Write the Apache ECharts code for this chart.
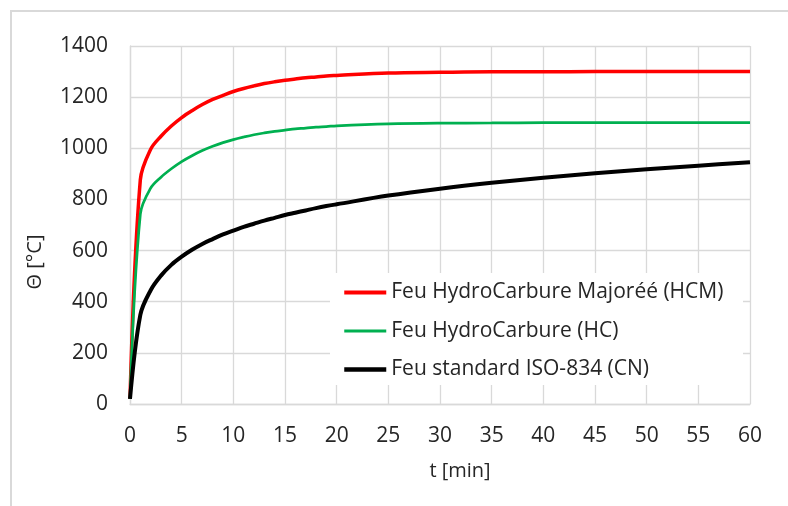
<!DOCTYPE html>
<html>
<head>
<meta charset="utf-8">
<script src="https://cdn.jsdelivr.net/npm/echarts@6/dist/echarts.min.js"></script>
<style>html,body{margin:0;padding:0;background:#fff}#c{width:788px;height:506px}</style>
</head>
<body>
<div id="c"></div>
<script>
// time [min]
var times = [0,1,2,3,4,5,6,7,8,9,10,11,12,13,14,15,16,17,18,19,20,25,30,35,40,45,50,55,60];
// Feu HydroCarbure Majoréé (HCM)
var hcm = [20,877,996,1047,1087,1120,1147,1171,1191,1207,1222,1234,1244,1253,1260,1266,1271,1276,1279,1283,1285,1294,1297,1299,1299,1300,1300,1300,1300];
// Feu HydroCarbure (HC)
var hc = [20,743,844,887,920,948,971,991,1008,1022,1034,1044,1053,1060,1066,1071,1076,1079,1083,1085,1088,1095,1098,1099,1100,1100,1100,1100,1100];
// Feu standard ISO-834 (CN)
var iso = [20,349,445,502,544,576,603,626,645,663,678,693,705,717,728,739,748,757,766,774,781,815,842,865,885,902,918,932,945];
var seriesNames = ['Feu HydroCarbure Majoréé (HCM)','Feu HydroCarbure (HC)','Feu standard ISO-834 (CN)'];
var xTicks = {min:0, max:60, interval:5};
var yTicks = {min:0, max:1400, interval:200};
var xTitle = 't [min]';
var yTitle = 'Θ [°C]';

function pairs(ys){ return times.map(function(t,i){ return [t, ys[i]]; }); }

var FONT = '"Open Sans", sans-serif';
var GRID = '#d9d9d9';
var TXT = '#262626';

var chart = echarts.init(document.getElementById('c'), null, {renderer:'canvas'});
chart.setOption({
  animation:false,
  backgroundColor:'#ffffff',
  grid:{left:130, right:38, top:46, bottom:102, containLabel:false},
  xAxis:{type:'value', min:xTicks.min, max:xTicks.max, interval:xTicks.interval,
    axisLine:{show:true, lineStyle:{color:GRID, width:1.3}},
    axisTick:{show:false},
    splitLine:{show:true, lineStyle:{color:GRID, width:1.3}},
    axisLabel:{color:TXT, fontFamily:FONT, fontSize:21, margin:22, formatter:function(v){return String(v);}}},
  yAxis:{type:'value', min:yTicks.min, max:yTicks.max, interval:yTicks.interval,
    axisLine:{show:true, lineStyle:{color:GRID, width:1.3}},
    axisTick:{show:false},
    splitLine:{show:true, lineStyle:{color:GRID, width:1.3}},
    axisLabel:{color:TXT, fontFamily:FONT, fontSize:21, margin:22, formatter:function(v){return String(v);}}},
  legend:{orient:'vertical', left:342, top:282, itemWidth:42, itemHeight:24, itemGap:17.5,
    padding:0, itemStyle:{opacity:0},
    textStyle:{color:TXT, fontFamily:FONT, fontSize:21},
    data:[
      {name:seriesNames[0], lineStyle:{width:4}},
      {name:seriesNames[1], lineStyle:{width:3}},
      {name:seriesNames[2], lineStyle:{width:4.5}}
    ], z:10},
  graphic:[
    {type:'line', shape:{x1:11, y1:10, x2:11, y2:506}, style:{stroke:GRID, lineWidth:2}, z:1},
    {type:'line', shape:{x1:10, y1:11, x2:788, y2:11}, style:{stroke:GRID, lineWidth:2}, z:1},
    {type:'rect', shape:{x:330, y:273, width:413, height:112}, style:{fill:'#ffffff'}, z:5},
    {type:'text', x:35, y:262, rotation:Math.PI/2, style:{text:yTitle, fill:TXT, font:'20px '+FONT, textAlign:'center', textVerticalAlign:'middle'}, z:10},
    {type:'text', x:460, y:471, style:{text:xTitle, fill:TXT, font:'20px '+FONT, textAlign:'center', textVerticalAlign:'middle'}, z:10}
  ],
  series:[
    {name:seriesNames[0], type:'line', data:pairs(hcm), symbol:'none', smooth:0.35, lineStyle:{color:'#ff0000', width:3.5}, itemStyle:{color:'#ff0000'}, z:2},
    {name:seriesNames[1], type:'line', data:pairs(hc), symbol:'none', smooth:0.35, lineStyle:{color:'#00b050', width:2.75}, itemStyle:{color:'#00b050'}, z:3},
    {name:seriesNames[2], type:'line', data:pairs(iso), symbol:'none', smooth:0.35, lineStyle:{color:'#000000', width:4}, itemStyle:{color:'#000000'}, z:4}
  ]
});
</script>
</body>
</html>
